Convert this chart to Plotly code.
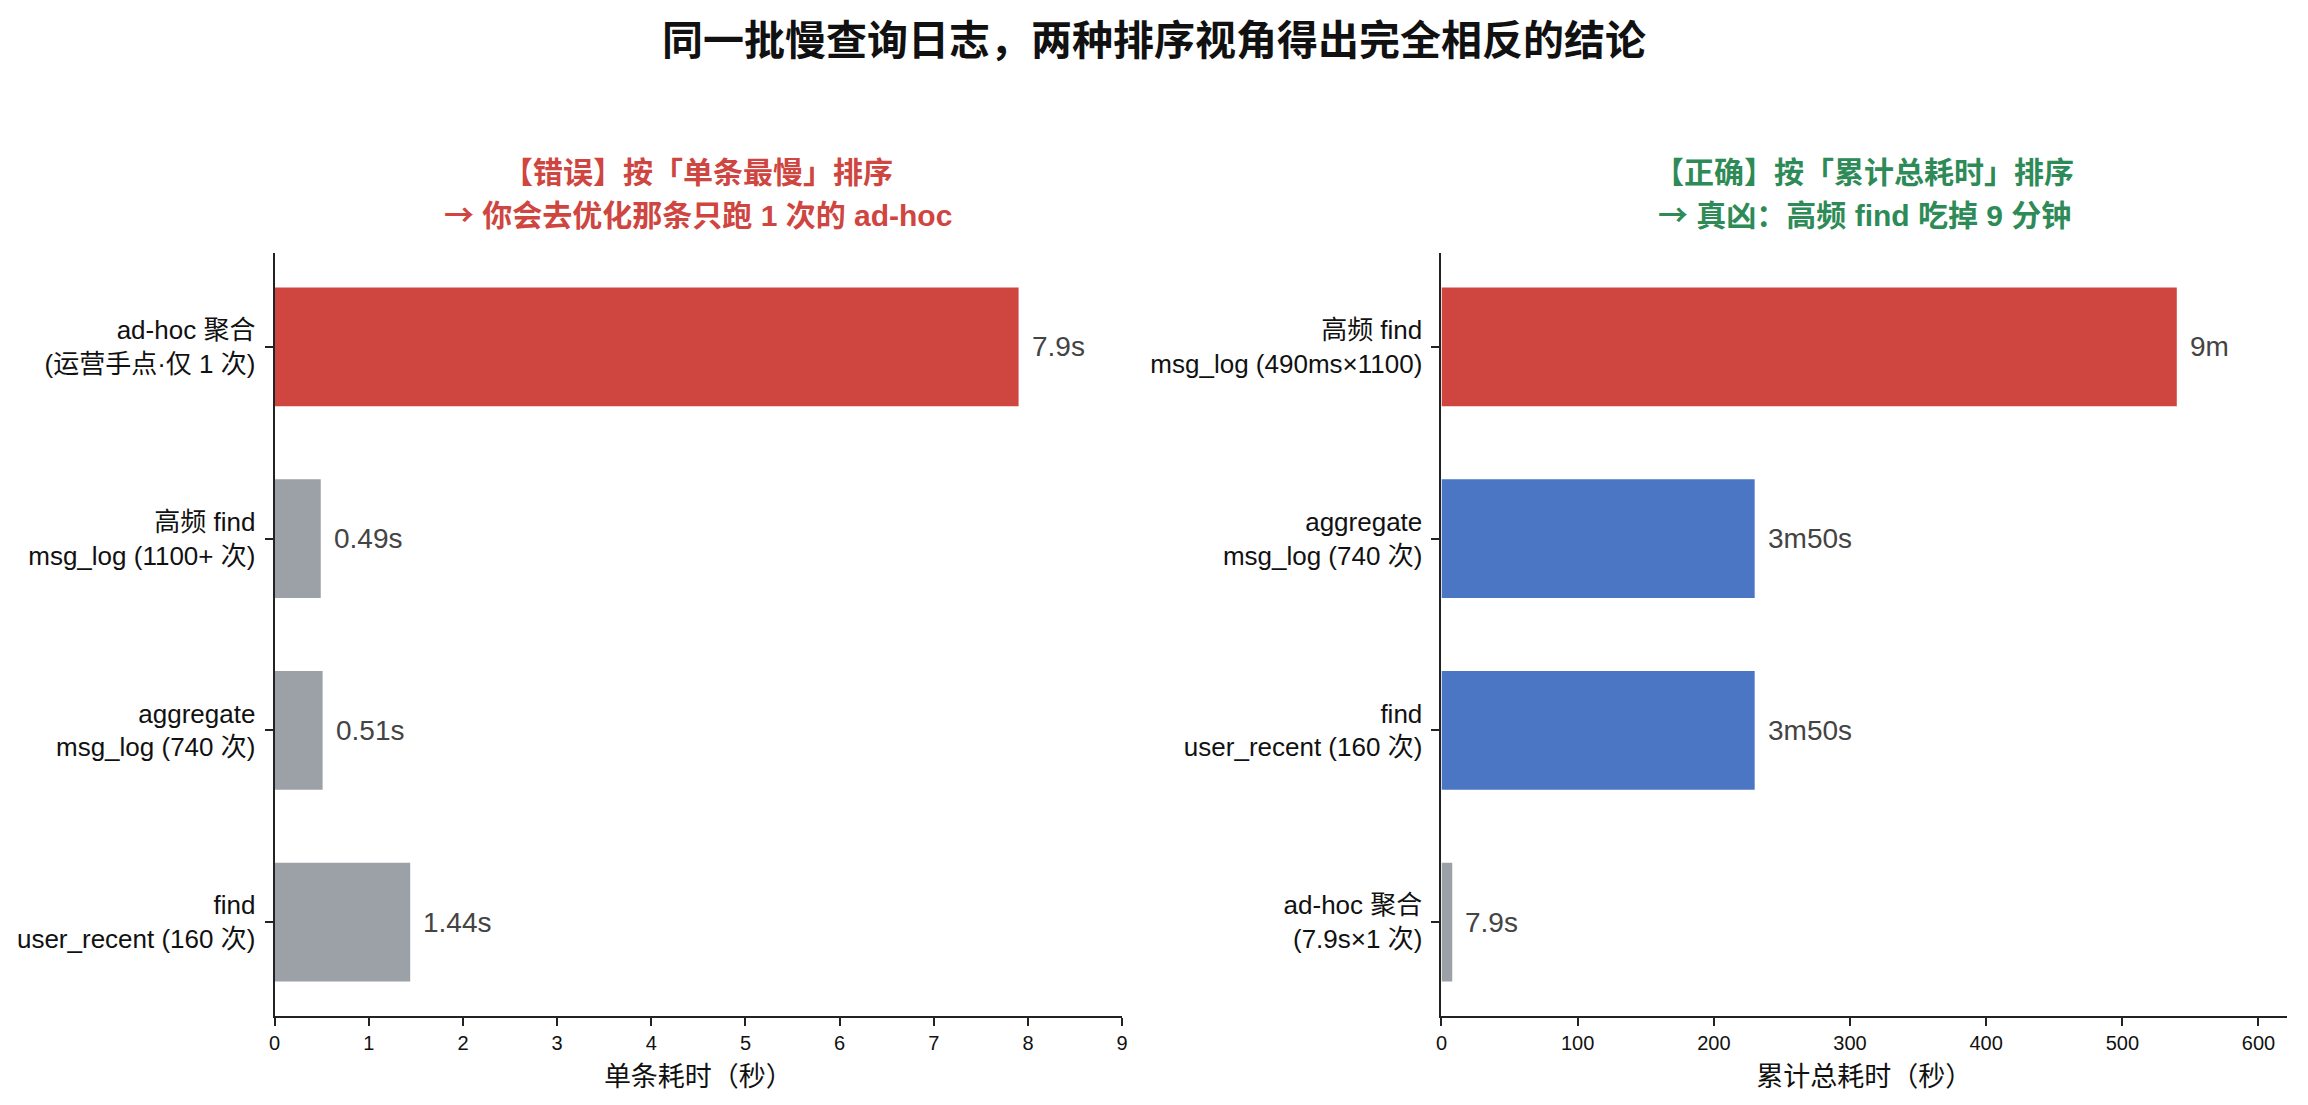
import plotly.graph_objects as go

# ---------------- data ----------------
title_main = "同一批慢查询日志，两种排序视角得出完全相反的结论"

left_title_1 = "【错误】按「单条最慢」排序"
left_title_2 = "→ 你会去优化那条只跑 1 次的 ad-hoc"
right_title_1 = "【正确】按「累计总耗时」排序"
right_title_2 = "→ 真凶：高频 find 吃掉 9 分钟"

left_categories = [
    "ad-hoc 聚合<br>(运营手点·仅 1 次)",
    "高频 find<br>msg_log (1100+ 次)",
    "aggregate<br>msg_log (740 次)",
    "find<br>user_recent (160 次)",
]
left_values = [7.9, 0.49, 0.51, 1.44]
left_labels = ["7.9s", "0.49s", "0.51s", "1.44s"]

right_categories = [
    "高频 find<br>msg_log (490ms×1100)",
    "aggregate<br>msg_log (740 次)",
    "find<br>user_recent (160 次)",
    "ad-hoc 聚合<br>(7.9s×1 次)",
]
right_values = [540, 230, 230, 7.9]
right_labels = ["9m", "3m50s", "3m50s", "7.9s"]

left_xlabel = "单条耗时（秒）"
right_xlabel = "累计总耗时（秒）"

# ---------------- style ----------------
RED = "#CF4540"
GRAY = "#9CA1A8"
BLUE = "#4A76C4"
GREEN = "#2E8B57"
FONT = "Liberation Sans, Noto Sans CJK SC, sans-serif"

left_colors = [RED, GRAY, GRAY, GRAY]
right_colors = [RED, BLUE, BLUE, GRAY]

W, H = 2308, 1105

fig = go.Figure()

fig.add_trace(go.Bar(
    x=left_values, y=left_categories, orientation="h",
    marker=dict(color=left_colors, line=dict(width=0)),
    width=0.62, xaxis="x", yaxis="y", hoverinfo="skip", showlegend=False,
))
fig.add_trace(go.Bar(
    x=right_values, y=right_categories, orientation="h",
    marker=dict(color=right_colors, line=dict(width=0)),
    width=0.62, xaxis="x2", yaxis="y2", hoverinfo="skip", showlegend=False,
))

annotations = []
for v, c, t in zip(left_values, left_categories, left_labels):
    annotations.append(dict(x=v, y=c, xref="x", yref="y", text=t, showarrow=False,
                            xanchor="left", yanchor="middle", xshift=11,
                            font=dict(family=FONT, size=28, color="#444444")))
for v, c, t in zip(right_values, right_categories, right_labels):
    annotations.append(dict(x=v, y=c, xref="x2", yref="y2", text=t, showarrow=False,
                            xanchor="left", yanchor="middle", xshift=11,
                            font=dict(family=FONT, size=28, color="#444444")))

# main title
annotations.append(dict(x=0.5, y=1 - 37 / H, xref="paper", yref="paper", text=title_main,
                        showarrow=False, xanchor="center", yanchor="middle",
                        font=dict(family="Noto Sans CJK SC", size=41, color="#111111", weight="bold")))


def arrowify(s):
    return s.replace("→", "<span style='font-family:Noto Sans CJK SC'>→</span>")


lx0, lx1 = 270 / W, 1122 / W
rx0, rx1 = 1443 / W, 2293 / W
lc = (lx0 + lx1) / 2
rc = (rx0 + rx1) / 2
for xc, t1, t2, col in [(lc, left_title_1, left_title_2, RED), (rc, right_title_1, right_title_2, GREEN)]:
    annotations.append(dict(x=xc, y=1 - 172 / H, xref="paper", yref="paper", text=t1,
                            showarrow=False, xanchor="center", yanchor="middle",
                            font=dict(family=FONT, size=30, color=col, weight="bold")))
    annotations.append(dict(x=xc, y=1 - 213 / H, xref="paper", yref="paper", text=arrowify(t2),
                            showarrow=False, xanchor="center", yanchor="middle",
                            font=dict(family=FONT, size=30, color=col, weight="bold")))

ydom = [1 - 1016 / H, 1 - 253 / H]

axis_common = dict(showline=True, linecolor="#222222", linewidth=2, ticks="outside",
                   ticklen=8, tickwidth=2, tickcolor="#222222", showgrid=False,
                   zeroline=False)

fig.update_layout(
    width=W, height=H,
    margin=dict(l=0, r=0, t=0, b=0),
    paper_bgcolor="white", plot_bgcolor="white",
    font=dict(family=FONT, color="#111111"),
    annotations=annotations,
    xaxis=dict(domain=[lx0, lx1], range=[0, 9], dtick=1, anchor="y",
               tickfont=dict(size=20, family=FONT, color="#111111"),
               title=dict(text=left_xlabel, font=dict(size=27, family=FONT, color="#111111"), standoff=14),
               **axis_common),
    yaxis=dict(domain=ydom, range=[3.49, -0.49], anchor="x", type="category",
               categoryorder="array", categoryarray=left_categories,
               tickfont=dict(size=26, family=FONT, color="#111111"),
               ticklabelstandoff=4,
               **axis_common),
    xaxis2=dict(domain=[rx0, rx1], range=[0, 621], dtick=100, anchor="y2",
                tickfont=dict(size=20, family=FONT, color="#111111"),
                title=dict(text=right_xlabel, font=dict(size=27, family=FONT, color="#111111"), standoff=14),
                **axis_common),
    yaxis2=dict(domain=ydom, range=[3.49, -0.49], anchor="x2", type="category",
                categoryorder="array", categoryarray=right_categories,
                tickfont=dict(size=26, family=FONT, color="#111111"),
                ticklabelstandoff=4,
                **axis_common),
)

fig.write_html("out.html",
               config={"displayModeBar": False},
               post_script="document.body.style.margin='0';document.body.style.overflow='hidden';")
